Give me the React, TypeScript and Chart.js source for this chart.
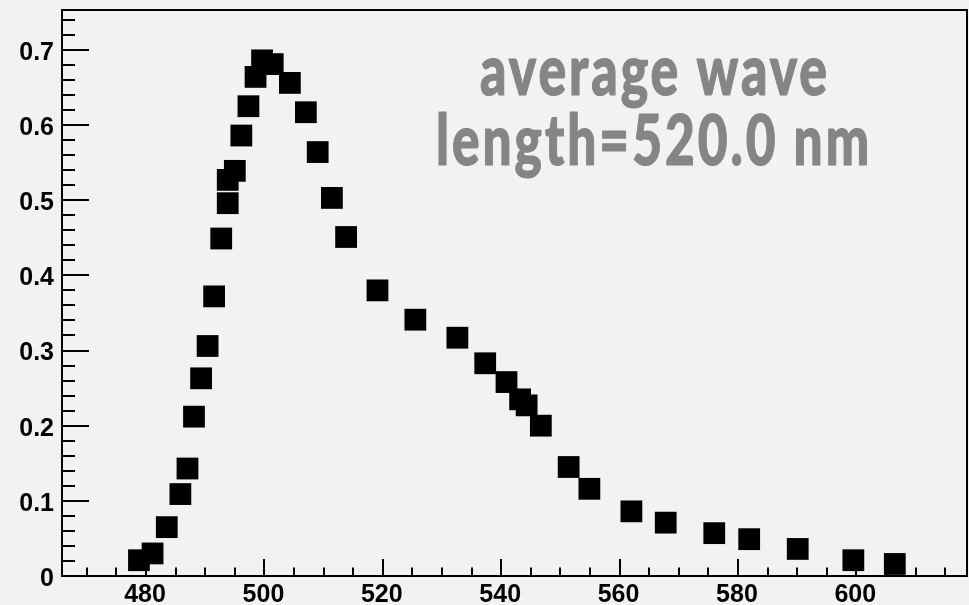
import React, { useEffect, useRef } from 'react';
import { Chart, registerables } from 'chart.js';

Chart.register(...registerables);

// wavelength (nm)
const WAVELENGTH = [
  478.8, 481.1, 483.5, 485.8, 487.0, 488.1, 489.3, 490.4, 491.5, 492.7,
  493.8, 493.8, 495.0, 496.1, 497.3, 498.5, 499.6, 501.4, 504.3, 507.0,
  509.0, 511.4, 513.8, 519.1, 525.5, 532.6, 537.3, 540.9, 543.2, 544.3,
  546.7, 551.4, 554.9, 562.0, 567.8, 576.0, 581.9, 590.1, 599.5, 606.5,
];
// relative intensity
const INTENSITY = [
  0.021, 0.030, 0.065, 0.109, 0.143, 0.212, 0.263, 0.306, 0.372, 0.449,
  0.496, 0.527, 0.539, 0.586, 0.625, 0.664, 0.686, 0.681, 0.656, 0.617,
  0.564, 0.503, 0.451, 0.380, 0.341, 0.317, 0.283, 0.258, 0.235, 0.227,
  0.200, 0.145, 0.116, 0.086, 0.071, 0.057, 0.049, 0.036, 0.021, 0.016,
];

const X_TICKS = [480, 500, 520, 540, 560, 580, 600];
const Y_TICKS = [0, 0.1, 0.2, 0.3, 0.4, 0.5, 0.6, 0.7];
const X_MIN = 465.8;
const X_MAX = 618.7;
const Y_MIN = 0;
const Y_MAX = 0.753;

const ANNOT_LINE1 = 'average wave';
const ANNOT_LINE2 = 'length=520.0 nm';

const BG = '#f2f2f2';

const zeroPad = (scale: any) => {
  scale.paddingLeft = 0;
  scale.paddingRight = 0;
  scale.paddingTop = 0;
  scale.paddingBottom = 0;
};

const bgPlugin = {
  id: 'bgFill',
  beforeDraw(chart: any) {
    const { ctx, width, height } = chart;
    ctx.save();
    ctx.fillStyle = BG;
    ctx.fillRect(0, 0, width, height);
    ctx.restore();
  },
};

const frameTicksPlugin = {
  id: 'frameTicks',
  beforeDatasetsDraw(chart: any) {
    const { ctx, chartArea, scales } = chart;
    const { left, right, top, bottom } = chartArea;
    const xs = scales.x;
    const ys = scales.y;
    ctx.save();
    ctx.strokeStyle = '#000';
    ctx.lineWidth = 2;
    ctx.lineCap = 'butt';
    ctx.beginPath();
    // y ticks every 0.02, major every 0.1
    for (let i = 0; i * 0.02 <= Y_MAX + 1e-9; i++) {
      const v = i * 0.02;
      const py = Math.round(ys.getPixelForValue(v));
      const len = i % 5 === 0 ? 27 : 13;
      ctx.moveTo(left, py);
      ctx.lineTo(left + len, py);
    }
    // x ticks every 5, major every 20
    for (let v = Math.ceil(X_MIN / 5) * 5; v <= X_MAX; v += 5) {
      const px = Math.round(xs.getPixelForValue(v));
      const len = v % 20 === 0 ? 17 : 8.5;
      ctx.moveTo(px, bottom);
      ctx.lineTo(px, bottom - len);
    }
    ctx.stroke();
    ctx.strokeRect(left, top, right - left, bottom - top);
    ctx.restore();

    // annotation text
    ctx.save();
    ctx.fillStyle = '#858585';
    ctx.strokeStyle = '#858585';
    ctx.lineWidth = 1.2;
    ctx.lineJoin = 'round';
    ctx.textAlign = 'center';
    ctx.textBaseline = 'alphabetic';
    try { (ctx as any).letterSpacing = '4px'; } catch (e) { /* ignore */ }
    ctx.font = "900 70px Lato, 'Open Sans', sans-serif";
    ctx.fillText(ANNOT_LINE1, 655, 95, 350);
    ctx.strokeText(ANNOT_LINE1, 655, 95, 350);
    ctx.fillText(ANNOT_LINE2, 654, 165, 436);
    ctx.strokeText(ANNOT_LINE2, 654, 165, 436);
    ctx.restore();
  },
};

export default function App() {
  const canvasRef = useRef<HTMLCanvasElement | null>(null);

  useEffect(() => {
    document.body.style.margin = '0';
    document.body.style.background = BG;
    const canvas = canvasRef.current;
    if (!canvas) return;
    const points = WAVELENGTH.map((x, i) => ({ x, y: INTENSITY[i] }));
    const tickFont = { family: "'Liberation Sans', Arial, sans-serif", weight: 'bold' as const, size: 25 };
    const chart = new Chart(canvas, {
      type: 'scatter',
      data: {
        datasets: [
          {
            data: points,
            pointStyle: 'rect',
            pointRadius: 15.4,
            pointHoverRadius: 15.4,
            backgroundColor: '#000',
            borderColor: '#000',
            borderWidth: 0,
            clip: false,
          },
        ],
      },
      options: {
        responsive: false,
        animation: false,
        events: [],
        layout: { autoPadding: false, padding: { top: 10, right: 2, left: 0, bottom: 0 } },
        plugins: {
          legend: { display: false },
          tooltip: { enabled: false },
          title: { display: false },
        },
        scales: {
          x: {
            type: 'linear',
            min: X_MIN,
            max: X_MAX,
            grid: { display: false, drawTicks: false },
            border: { display: false },
            afterBuildTicks: (scale: any) => {
              scale.ticks = X_TICKS.map((v) => ({ value: v }));
            },
            afterFit: (scale: any) => {
              scale.height = 29;
              zeroPad(scale);
            },
            ticks: {
              font: tickFont,
              color: '#000',
              padding: 4,
              labelOffset: -1,
              maxRotation: 0,
              autoSkip: false,
              callback: (v: any) => String(Math.round(Number(v))),
            },
          },
          y: {
            type: 'linear',
            min: Y_MIN,
            max: Y_MAX,
            grid: { display: false, drawTicks: false },
            border: { display: false },
            afterBuildTicks: (scale: any) => {
              scale.ticks = Y_TICKS.map((v) => ({ value: v }));
            },
            afterFit: (scale: any) => {
              scale.width = 62;
              zeroPad(scale);
            },
            ticks: {
              font: tickFont,
              color: '#000',
              padding: 8,
              labelOffset: 3,
              autoSkip: false,
              callback: (v: any) => (Number(v) === 0 ? '0' : Number(v).toFixed(1)),
            },
          },
        },
      },
      plugins: [bgPlugin, frameTicksPlugin],
    });
    return () => chart.destroy();
  }, []);

  return (
    <div style={{ position: 'absolute', left: 0, top: 0, width: 969, height: 605, background: BG }}>
      <canvas ref={canvasRef} width={969} height={605} style={{ display: 'block' }} />
    </div>
  );
}
